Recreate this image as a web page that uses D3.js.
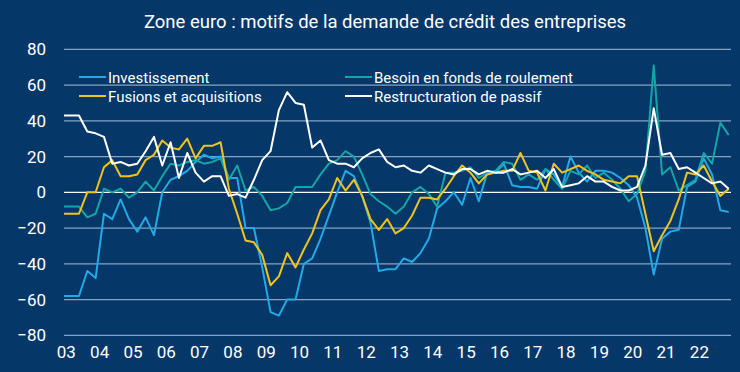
<!DOCTYPE html>
<html lang="fr">
<head>
<meta charset="utf-8">
<script src="https://cdn.jsdelivr.net/npm/d3@7"></script>
<style>
  html, body { margin: 0; padding: 0; background: #053769; }
  svg { display: block; }
</style>
</head>
<body>
<div id="chart"></div>
<script>
// Trimestres : 2003T1 -> 2023T1 (81 points)
const firstYear = 2003;
const yearLabels = ["03","04","05","06","07","08","09","10","11","12","13","14","15","16","17","18","19","20","21","22"];
const yTicks = [-80, -60, -40, -20, 0, 20, 40, 60, 80];

const investissement = [
  -58, -58, -58, -44, -48, -12, -15, -4, -15, -22, -14, -24, 0, 7, 9, 12,
  17, 21, 19, 20, 8, 8, -20, -20, -42, -67, -69, -60, -60, -40, -37, -26,
  -13, 0, 12, 9, -2, -17, -44, -43, -43, -37, -39, -34, -26, -9, -5, 0,
  -7, 8, -5, 11, 11, 16, 4, 3, 3, 2, 13, 10, 3, 20, 11, 6,
  12, 12, 11, 8, 4, -3, -20, -46, -26, -22, -21, 3, 6, 19, 10, -10, -11
];
const besoinFonds = [
  -8, -8, -8, -14, -12, 2, 0, 2, -3, 0, 6, 1, 9, 16, 15, 17,
  18, 16, 17, 19, 7, 15, 1, 3, -2, -10, -9, -6, 3, 3, 3, 10,
  16, 18, 23, 20, 10, -1, -5, -8, -12, -8, 0, 3, -1, -8, 11, 11,
  12, 14, 8, 11, 12, 17, 16, 7, 10, 7, 13, 7, 2, 12, 10, 15,
  8, 11, 7, 2, -5, -1, 12, 71, 10, 14, 1, 4, 7, 22, 16, 39, 32
];
const fusions = [
  -12, -12, -12, 0, 0, 14, 18, 9, 9, 10, 18, 21, 29, 25, 24, 30,
  19, 26, 26, 28, 2, -12, -27, -28, -35, -52, -47, -34, -42, -32, -23, -10,
  -4, 8, 1, 7, -2, -15, -21, -15, -23, -20, -13, -3, -3, -4, 2, 9,
  15, 11, 5, 10, 11, 12, 12, 22, 12, 11, 1, 16, 11, 13, 15, 12,
  10, 7, 6, 5, 9, 9, -12, -33, -24, -16, -4, 11, 10, 15, 6, -2, 2
];
const restructuration = [
  43, 43, 43, 34, 33, 31, 16, 17, 15, 16, 23, 31, 15, 28, 8, 22,
  11, 6, 9, 9, -2, -1, -3, 7, 18, 23, 46, 56, 50, 49, 25, 29,
  18, 16, 16, 14, 19, 22, 24, 17, 14, 15, 12, 11, 15, 13, 11, 10,
  13, 13, 10, 12, 11, 11, 13, 10, 11, 12, 8, 13, 3, 4, 5, 9,
  6, 6, 3, 1, 1, 3, 15, 47, 21, 22, 13, 14, 11, 8, 5, 6, 2
];

const series = [
  { name: "Investissement", values: investissement, color: "#22a9e6" },
  { name: "Besoin en fonds de roulement", values: besoinFonds, color: "#14a6a6" },
  { name: "Fusions et acquisitions", values: fusions, color: "#f2c31c" },
  { name: "Restructuration de passif", values: restructuration, color: "#ffffff" }
];

const width = 740, height = 372;
const font = "Roboto, 'Noto Sans', sans-serif";

const svg = d3.select("#chart").append("svg")
  .attr("width", width)
  .attr("height", height);

svg.append("rect").attr("width", width).attr("height", height).attr("fill", "#053769");

// échelles
const x = d3.scaleLinear().domain([firstYear, firstYear + 20]).range([62.3, 728.7]);
const y = d3.scaleLinear().domain([-80, 80]).range([335.3, 49.3]);
const dateOf = i => firstYear + i / 4;

// titre
svg.append("text")
  .attr("x", 385).attr("y", 28)
  .attr("text-anchor", "middle")
  .attr("fill", "#ffffff")
  .style("font-family", font)
  .style("font-size", "18.5px")
  .text("Zone euro : motifs de la demande de crédit des entreprises");

// grille horizontale
svg.append("g")
  .selectAll("line")
  .data(yTicks)
  .join("line")
  .attr("x1", 64).attr("x2", 731)
  .attr("y1", d => y(d)).attr("y2", d => y(d))
  .attr("stroke", d => d === 0 ? "#ffffff" : "#86a3c2")
  .attr("stroke-width", 1.3);

// axe Y
const yAxis = svg.append("g")
  .attr("transform", "translate(46,0)")
  .call(d3.axisLeft(y).tickValues(yTicks).tickSize(0).tickPadding(0));
yAxis.select(".domain").remove();
yAxis.selectAll("text")
  .attr("fill", "#ffffff")
  .style("font-family", font)
  .style("font-size", "17px");

// axe X
const xAxis = svg.append("g")
  .attr("transform", "translate(3.5,346)")
  .call(d3.axisBottom(x)
    .tickValues(yearLabels.map((d, i) => firstYear + i))
    .tickFormat((d, i) => yearLabels[i])
    .tickSize(0).tickPadding(0));
xAxis.select(".domain").remove();
xAxis.selectAll("text")
  .attr("fill", "#ffffff")
  .style("font-family", font)
  .style("font-size", "17px");

// courbes
svg.append("clipPath").attr("id", "plot")
  .append("rect").attr("x", 64).attr("y", 0).attr("width", 670).attr("height", height);

const line = d3.line()
  .x((d, i) => x(dateOf(i)))
  .y(d => y(d));

svg.append("g")
  .attr("clip-path", "url(#plot)")
  .selectAll("path")
  .data(series)
  .join("path")
  .attr("fill", "none")
  .attr("stroke", d => d.color)
  .attr("stroke-width", 2)
  .attr("stroke-linejoin", "round")
  .attr("d", d => line(d.values));

// légende (deux colonnes)
const legendPos = [[79, 77], [345, 77], [79, 96], [345, 96]];
const legend = svg.append("g")
  .selectAll("g")
  .data(series)
  .join("g")
  .attr("transform", (d, i) => `translate(${legendPos[i][0]},${legendPos[i][1]})`);

legend.append("line")
  .attr("x1", 0).attr("x2", 27)
  .attr("stroke", d => d.color)
  .attr("stroke-width", 2);

legend.append("text")
  .attr("x", 29).attr("y", 5.5)
  .attr("fill", "#ffffff")
  .style("font-family", font)
  .style("font-size", "15px")
  .text(d => d.name);
</script>
</body>
</html>
